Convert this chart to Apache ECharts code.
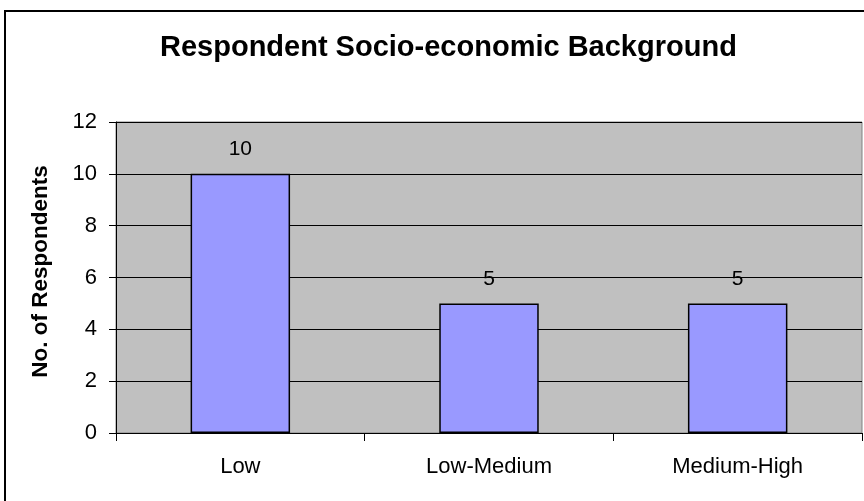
<!DOCTYPE html>
<html>
<head>
<meta charset="utf-8">
<style>
  html, body { margin: 0; padding: 0; background: #ffffff; }
  #chart { width: 864px; height: 501px; }
</style>
<script src="https://cdn.jsdelivr.net/npm/echarts@6/dist/echarts.min.js"></script>
</head>
<body>
<div id="chart"></div>
<script>
// Respondents grouped by socio-economic background
const categories = ['Low', 'Low-Medium', 'Medium-High'];
const respondents = [10, 5, 5];
const yTicks = { min: 0, max: 12, step: 2 };

const FONT = '"Liberation Sans", Arial, sans-serif';

const chart = echarts.init(document.getElementById('chart'), null, { renderer: 'canvas' });

chart.setOption({
  backgroundColor: '#ffffff',
  animation: false,
  title: {
    text: 'Respondent Socio-economic Background',
    left: 155,
    top: 28,
    textStyle: { fontFamily: FONT, fontWeight: 'bold', fontSize: 29, color: '#000000' }
  },
  graphic: [{
    type: 'rect',
    shape: { x: 5, y: 11, width: 880, height: 520 },
    style: { fill: 'none', stroke: '#000000', lineWidth: 2 },
    silent: true,
    z: 100
  }],
  grid: {
    left: 116, top: 122, right: 2, bottom: 68,
    show: true,
    backgroundColor: '#C0C0C0',
    borderColor: '#808080',
    borderWidth: 1
  },
  xAxis: {
    type: 'category',
    data: categories,
    axisLine: { show: true, lineStyle: { color: '#000000', width: 1 } },
    axisTick: { show: true, alignWithLabel: false, length: 8, lineStyle: { color: '#000000' } },
    axisLabel: { fontFamily: FONT, fontSize: 22, color: '#000000', margin: 23 },
    splitLine: { show: false }
  },
  yAxis: {
    type: 'value',
    min: yTicks.min,
    max: yTicks.max,
    interval: yTicks.step,
    name: 'No. of Respondents',
    nameLocation: 'middle',
    nameGap: 64,
    nameTextStyle: {
      fontFamily: FONT, fontWeight: 'bold', fontSize: 22.5, color: '#000000',
      padding: [0, 0, 0, 12]
    },
    axisLine: { show: true, lineStyle: { color: '#000000', width: 1 } },
    axisTick: { show: true, length: 7, lineStyle: { color: '#000000' } },
    axisLabel: { fontFamily: FONT, fontSize: 22, color: '#000000', margin: 19 },
    splitLine: { show: true, lineStyle: { color: '#000000', width: 1 } }
  },
  series: [{
    type: 'bar',
    data: respondents,
    barCategoryGap: '60%',
    itemStyle: { color: '#9999FF', borderColor: '#000000', borderWidth: 1.5 },
    label: {
      show: true,
      position: 'top',
      distance: 14,
      fontFamily: FONT,
      fontSize: 21,
      color: '#000000'
    }
  }]
});
</script>
</body>
</html>
